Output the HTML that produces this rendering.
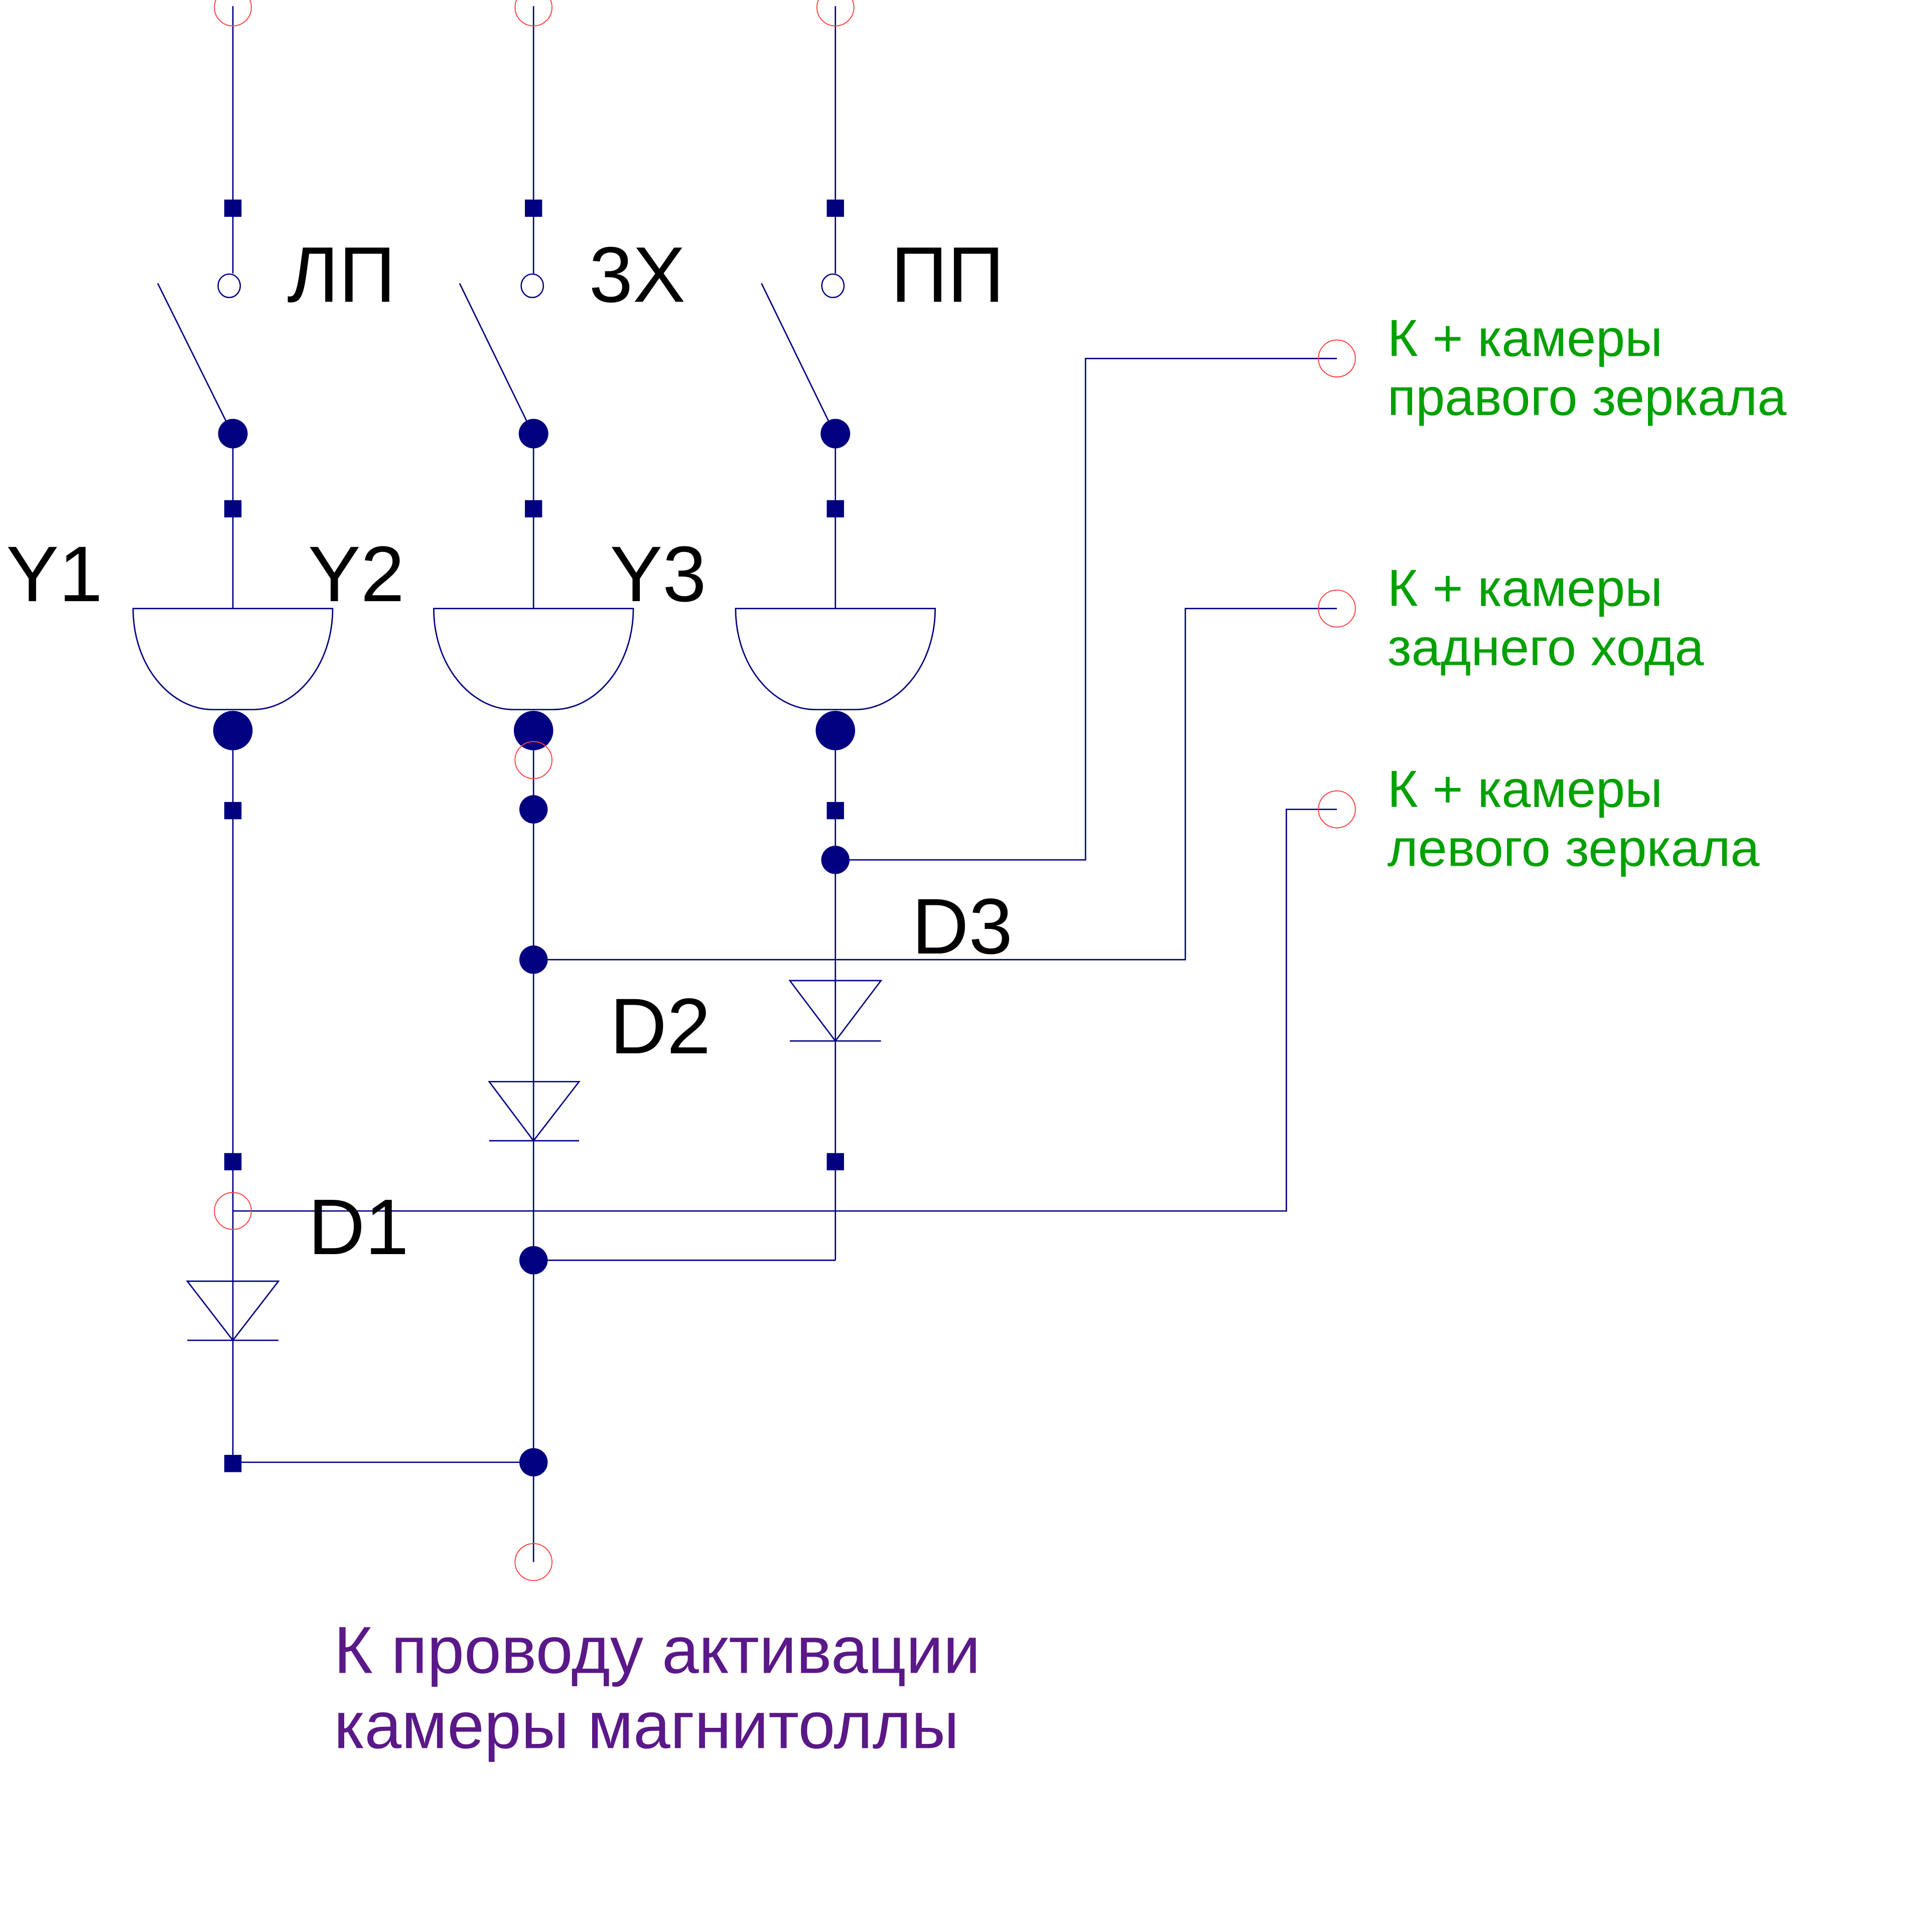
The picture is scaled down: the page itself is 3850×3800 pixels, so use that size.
<!DOCTYPE html>
<html><head><meta charset="utf-8"><style>html,body{margin:0;padding:0;background:#fff;}svg{display:block;}</style></head>
<body>
<svg xmlns="http://www.w3.org/2000/svg" width="3850" height="3800" viewBox="0 0 1568 1548" preserveAspectRatio="none">
<g stroke="#000080" stroke-width="1.1" fill="none">
<line x1="189" y1="5" x2="189" y2="222"/>
<line x1="433" y1="5" x2="433" y2="222"/>
<line x1="678" y1="5" x2="678" y2="222"/>
<line x1="128" y1="230" x2="185" y2="345"/>
<line x1="373" y1="230" x2="429" y2="345"/>
<line x1="618" y1="230" x2="674" y2="345"/>
<line x1="189" y1="352" x2="189" y2="494"/>
<line x1="433" y1="352" x2="433" y2="494"/>
<line x1="678" y1="352" x2="678" y2="494"/>
<path d="M108,494 H270 C270,540 240,576 205,576 H173 C138,576 108,540 108,494 Z"/>
<path d="M352,494 H514 C514,540 484,576 449,576 H417 C382,576 352,540 352,494 Z"/>
<path d="M597,494 H759 C759,540 729,576 694,576 H662 C627,576 597,540 597,494 Z"/>
<line x1="189" y1="593" x2="189" y2="1187"/>
<line x1="433" y1="593" x2="433" y2="1268"/>
<line x1="678" y1="593" x2="678" y2="1023"/>
<polyline points="678,698 881,698 881,291 1085,291"/>
<polyline points="433,779 962,779 962,494 1085,494"/>
<polyline points="189,983 1044,983 1044,657 1085,657"/>
<polyline points="678,1023 433,1023"/>
<polyline points="189,1187 433,1187"/>
<path d="M152,1040 H226 L189,1088 Z M152,1088 H226"/>
<path d="M397,878 H470 L433,926 Z M397,926 H470"/>
<path d="M641,796 H715 L678,845 Z M641,845 H715"/>
</g>
<g stroke="#000080" stroke-width="1" fill="#fff">
<ellipse cx="186" cy="232" rx="9" ry="9.5"/>
<ellipse cx="432" cy="232" rx="9" ry="9.5"/>
<ellipse cx="676" cy="232" rx="9" ry="9.5"/>
</g>
<g fill="#000080">
<rect x="182" y="162" width="14" height="14"/><rect x="426" y="162" width="14" height="14"/><rect x="671" y="162" width="14" height="14"/>
<rect x="182" y="406" width="14" height="14"/><rect x="426" y="406" width="14" height="14"/><rect x="671" y="406" width="14" height="14"/>
<rect x="182" y="651" width="14" height="14"/><rect x="671" y="651" width="14" height="14"/>
<rect x="182" y="936" width="14" height="14"/><rect x="671" y="936" width="14" height="14"/>
<rect x="182" y="1181" width="14" height="14"/>
<ellipse cx="189" cy="352" rx="12" ry="12"/><ellipse cx="433" cy="352" rx="12" ry="12"/><ellipse cx="678" cy="352" rx="12" ry="12"/>
<ellipse cx="189" cy="593" rx="16" ry="16"/><ellipse cx="433" cy="593" rx="16" ry="16"/><ellipse cx="678" cy="593" rx="16" ry="16"/>
<ellipse cx="433" cy="657" rx="11.5" ry="11.5"/><ellipse cx="678" cy="698" rx="11.5" ry="11.5"/>
<ellipse cx="433" cy="779" rx="11.5" ry="11.5"/><ellipse cx="433" cy="1023" rx="11.5" ry="11.5"/>
<ellipse cx="433" cy="1187" rx="11.5" ry="11.5"/>
</g>
<g stroke="#ff4040" stroke-width="0.8" fill="none">
<circle cx="189" cy="6" r="15"/><circle cx="433" cy="6" r="15"/><circle cx="678" cy="6" r="15"/>
<circle cx="433" cy="617" r="15"/><circle cx="189" cy="983" r="15"/><circle cx="433" cy="1268" r="15"/>
<circle cx="1085" cy="291" r="15"/><circle cx="1085" cy="494" r="15"/><circle cx="1085" cy="657" r="15"/>
</g>
<g font-family="Liberation Sans, DejaVu Sans, sans-serif" fill="#000" font-size="64">
<text x="233" y="245">ЛП</text><text x="478" y="245">3X</text><text x="723" y="245">ПП</text>
<text x="5" y="488">Y1</text><text x="250" y="488">Y2</text><text x="495" y="488">Y3</text>
<text x="740" y="774">D3</text><text x="495" y="855">D2</text><text x="250" y="1018">D1</text>
</g>
<g font-family="Liberation Sans, DejaVu Sans, sans-serif" fill="#00a000" font-size="42.5">
<text x="1126" y="289">К + камеры</text><text x="1126" y="337">правого зеркала</text>
<text x="1126" y="492">К + камеры</text><text x="1126" y="540">заднего хода</text>
<text x="1126" y="655">К + камеры</text><text x="1126" y="703">левого зеркала</text>
</g>
<g font-family="Liberation Sans, DejaVu Sans, sans-serif" fill="#5a1888" font-size="54">
<text x="271" y="1358">К проводу активации</text>
<text x="271" y="1419">камеры магнитоллы</text>
</g>
</svg>
</body></html>
